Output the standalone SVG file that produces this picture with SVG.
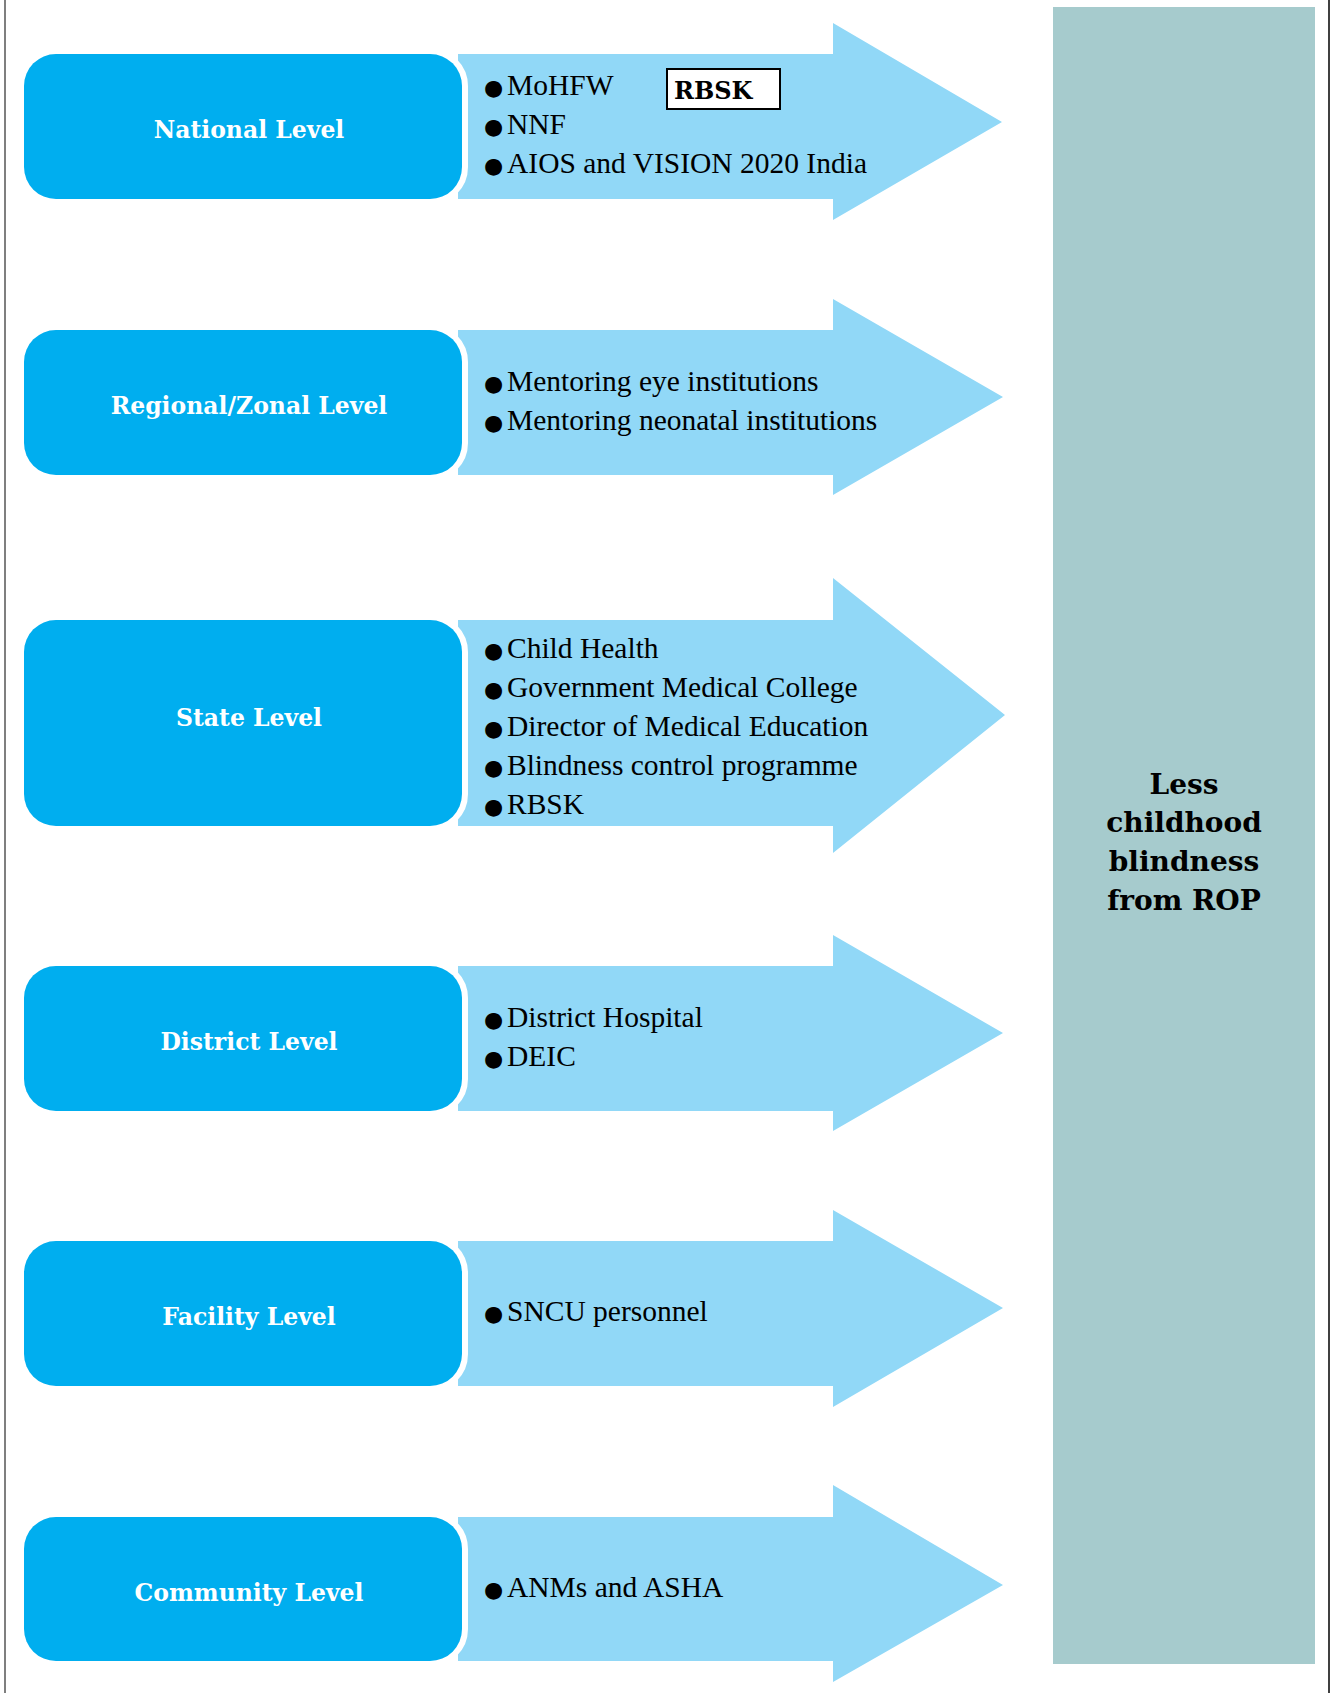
<svg xmlns="http://www.w3.org/2000/svg" width="1330" height="1693" viewBox="0 0 1330 1693">
<style>
.lvl{fill:#00AEEF;stroke:#FFFFFF;stroke-width:12;paint-order:stroke}
.arr{fill:#91D8F7}
.lbl{font-family:"DejaVu Serif",serif;font-weight:bold;font-size:23.5px;fill:#FFFFFF;text-anchor:middle}
.it{font-family:"Liberation Serif",serif;font-size:29.5px;fill:#000}
.b{font-family:"DejaVu Sans",sans-serif;font-size:22px}
.out{font-family:"DejaVu Serif",serif;font-weight:bold;font-size:28px;fill:#000;text-anchor:middle}
</style>
<rect x="0" y="0" width="1330" height="1693" fill="#FFFFFF"/>
<line x1="5" y1="0" x2="5" y2="1693" stroke="#555" stroke-width="1.5"/>
<line x1="1329" y1="0" x2="1329" y2="1693" stroke="#000" stroke-width="1.5"/>
<g id="outcome">
<rect x="1053" y="7" width="262" height="1657" fill="#A6CBCD"/>
<text class="out" x="1184" y="794">Less</text>
<text class="out" x="1184" y="832">childhood</text>
<text class="out" x="1184" y="871">blindness</text>
<text class="out" x="1184" y="910">from ROP</text>
</g>
<g id="connectors">
<polygon class="arr" points="458,54 833,54 833,23 1002,122 833,220 833,199 458,199"/>
<polygon class="arr" points="458,330 833,330 833,299 1003,397 833,495 833,475 458,475"/>
<polygon class="arr" points="458,620 833,620 833,578 1005,715 833,853 833,826 458,826"/>
<polygon class="arr" points="458,966 833,966 833,935 1003,1033 833,1131 833,1111 458,1111"/>
<polygon class="arr" points="458,1241 833,1241 833,1210 1003,1308 833,1407 833,1386 458,1386"/>
<polygon class="arr" points="458,1517 833,1517 833,1485 1003,1585 833,1682 833,1661 458,1661"/>
</g>
<g id="national">
<rect class="lvl" x="24" y="54" width="438" height="145" rx="32"/>
<text class="lbl" x="249" y="138">National Level</text>
<text class="it" x="484" y="95"><tspan class="b">●</tspan><tspan x="507">MoHFW</tspan></text>
<text class="it" x="484" y="134"><tspan class="b">●</tspan><tspan x="507">NNF</tspan></text>
<text class="it" x="484" y="173"><tspan class="b">●</tspan><tspan x="507">AIOS and VISION 2020 India</tspan></text>
<rect x="667" y="69" width="113" height="40" fill="#FFFFFF" stroke="#000" stroke-width="2"/>
<text x="674" y="99" font-family="DejaVu Serif, serif" font-weight="bold" font-size="24" fill="#000">RBSK</text>
</g>
<g id="regional">
<rect class="lvl" x="24" y="330" width="438" height="145" rx="32"/>
<text class="lbl" x="249" y="414">Regional/Zonal Level</text>
<text class="it" x="484" y="391"><tspan class="b">●</tspan><tspan x="507">Mentoring eye institutions</tspan></text>
<text class="it" x="484" y="430"><tspan class="b">●</tspan><tspan x="507">Mentoring neonatal institutions</tspan></text>
</g>
<g id="state">
<rect class="lvl" x="24" y="620" width="438" height="206" rx="32"/>
<text class="lbl" x="249" y="726">State Level</text>
<text class="it" x="484" y="658"><tspan class="b">●</tspan><tspan x="507">Child Health</tspan></text>
<text class="it" x="484" y="697"><tspan class="b">●</tspan><tspan x="507">Government Medical College</tspan></text>
<text class="it" x="484" y="736"><tspan class="b">●</tspan><tspan x="507">Director of Medical Education</tspan></text>
<text class="it" x="484" y="775"><tspan class="b">●</tspan><tspan x="507">Blindness control programme</tspan></text>
<text class="it" x="484" y="814"><tspan class="b">●</tspan><tspan x="507">RBSK</tspan></text>
</g>
<g id="district">
<rect class="lvl" x="24" y="966" width="438" height="145" rx="32"/>
<text class="lbl" x="249" y="1050">District Level</text>
<text class="it" x="484" y="1027"><tspan class="b">●</tspan><tspan x="507">District Hospital</tspan></text>
<text class="it" x="484" y="1066"><tspan class="b">●</tspan><tspan x="507">DEIC</tspan></text>
</g>
<g id="facility">
<rect class="lvl" x="24" y="1241" width="438" height="145" rx="32"/>
<text class="lbl" x="249" y="1325">Facility Level</text>
<text class="it" x="484" y="1321"><tspan class="b">●</tspan><tspan x="507">SNCU personnel</tspan></text>
</g>
<g id="community">
<rect class="lvl" x="24" y="1517" width="438" height="144" rx="32"/>
<text class="lbl" x="249" y="1601">Community Level</text>
<text class="it" x="484" y="1597"><tspan class="b">●</tspan><tspan x="507">ANMs and ASHA</tspan></text>
</g>
</svg>
